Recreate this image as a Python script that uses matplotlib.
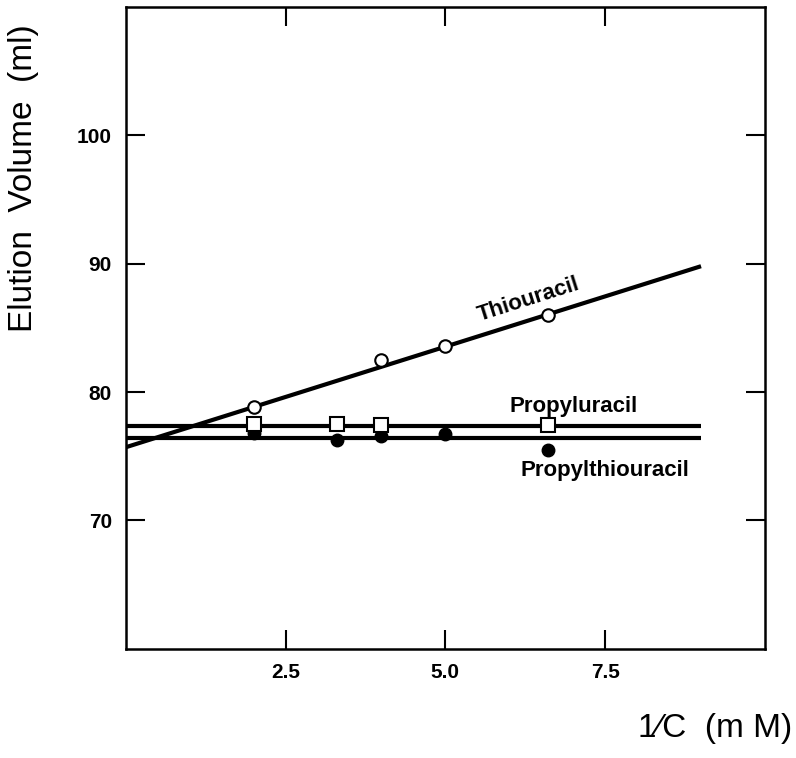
import numpy as np
import matplotlib
matplotlib.use("Agg")
import matplotlib.pyplot as plt

plt.rcParams['font.family'] = ['Liberation Sans', 'DejaVu Sans']

# measured points (1/C in mM^-1, elution volume in ml)
thio_x = [2.0, 4.0, 5.0, 6.6]
thio_y = [78.8, 82.5, 83.6, 86.0]

pu_x = [2.0, 3.3, 4.0, 6.6]
pu_y = [77.5, 77.5, 77.4, 77.4]

ptu_x = [2.0, 3.3, 4.0, 5.0, 6.6]
ptu_y = [76.8, 76.3, 76.6, 76.7, 75.5]

# fitted lines
fit_x = [0.0, 9.0]
thio_fit = [75.7, 89.8]
pu_fit = [77.35, 77.35]
ptu_fit = [76.45, 76.45]

xticks = [2.5, 5.0, 7.5]
xtick_labels = ['2.5', '5.0', '7.5']
yticks = [70, 80, 90, 100]

fig = plt.figure(figsize=(7.96, 7.58), dpi=100)
ax = fig.add_axes([0.158, 0.144, 0.803, 0.847])

ax.plot(fit_x, thio_fit, color='black', lw=3, solid_capstyle='butt', zorder=2)
ax.plot(fit_x, pu_fit, color='black', lw=3, solid_capstyle='butt', zorder=2)
ax.plot(fit_x, ptu_fit, color='black', lw=3, solid_capstyle='butt', zorder=2)

ax.plot(thio_x, thio_y, 'o', ms=9, mfc='white', mec='black', mew=1.5, zorder=4)
ax.plot(ptu_x, ptu_y, 'o', ms=9, mfc='black', mec='black', zorder=3)
ax.plot(pu_x, pu_y, 's', ms=10, mfc='white', mec='black', mew=1.5, zorder=4)

ax.text(6.3, 87.2, 'Thiouracil', rotation=17.6, ha='center', va='center',
        fontsize=16, fontweight='bold', rotation_mode='anchor')
ax.text(7.0, 78.9, 'Propyluracil', ha='center', va='center',
        fontsize=16, fontweight='bold')
ax.text(7.5, 73.9, 'Propylthiouracil', ha='center', va='center',
        fontsize=16, fontweight='bold')

ax.set_xlim(0, 10)
ax.set_ylim(60, 110)
ax.set_xticks(xticks)
ax.set_xticklabels(xtick_labels)
ax.set_yticks(yticks)
ax.tick_params(direction='in', length=14, width=1.5, top=True, right=True,
               labelsize=15, pad=10)
for lab in ax.get_xticklabels() + ax.get_yticklabels():
    lab.set_fontweight('bold')
for s in ax.spines.values():
    s.set_linewidth(1.8)

fig.text(24 / 796, 1 - 178 / 758, 'Elution  Volume  (ml)', rotation=90,
         ha='center', va='center', fontsize=24)
fig.text(715 / 796, 1 - 728 / 758, '1\u2044C  (m M)', ha='center', va='center',
         fontsize=24)

fig.savefig('out.png', dpi=100)
